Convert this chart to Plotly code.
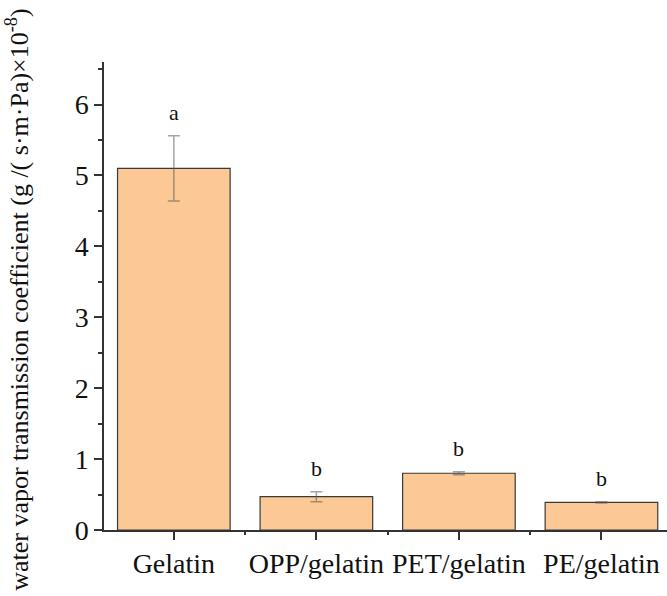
import plotly.graph_objects as go

categories = ["Gelatin", "OPP/gelatin", "PET/gelatin", "PE/gelatin"]
values = [5.10, 0.47, 0.80, 0.39]
errors = [0.46, 0.07, 0.02, 0.01]
letters = ["a", "b", "b", "b"]
y_ticks = [0, 1, 2, 3, 4, 5, 6]
boundaries = [0.5, 1.5, 2.5]

font_family = "Liberation Serif, Times New Roman, serif"

fig = go.Figure()
fig.add_trace(go.Bar(
    x=categories, y=values,
    width=0.79,
    marker=dict(color="#FBC896", line=dict(color="#3a3a3a", width=1.2)),
    error_y=dict(type="data", array=errors, visible=True,
                 color="rgba(90,90,90,0.55)", thickness=1.5, width=6),
    showlegend=False,
))
for c, v, e, t in zip(categories, values, errors, letters):
    fig.add_annotation(x=c, y=v + e, text=t, showarrow=False,
                       yshift=23, font=dict(size=22, family=font_family, color="#111"))

fig.add_trace(go.Scatter(x=boundaries, y=[0, 0, 0], xaxis="x2", mode="lines",
                         line=dict(width=0), showlegend=False, hoverinfo="skip"))

fig.add_annotation(
    xref="paper", yref="paper", x=-0.153, y=0.4915,
    text="water vapor transmission coefficient (g /( s·m·Pa)×10<sup>-8</sup>)",
    textangle=-90, showarrow=False, xanchor="center", yanchor="middle",
    font=dict(size=26, family=font_family, color="#111"),
)

xr = [-0.49, 3.46]
fig.update_layout(
    width=667, height=596,
    margin=dict(l=104, r=0, t=62, b=66),
    paper_bgcolor="white", plot_bgcolor="white",
    font=dict(family=font_family, color="#111"),
    xaxis=dict(
        range=xr, showline=True, linecolor="#333", linewidth=1.5,
        ticks="outside", ticklen=8, tickwidth=1.5, tickcolor="#333",
        tickfont=dict(size=28, family=font_family, color="#111"),
        showgrid=False, zeroline=False, fixedrange=True,
    ),
    xaxis2=dict(
        range=xr, overlaying="x", anchor="y", side="bottom",
        tickvals=boundaries, showticklabels=False,
        ticks="outside", ticklen=4, tickwidth=1.5, tickcolor="#333",
        showgrid=False, zeroline=False, showline=False,
    ),
    yaxis=dict(
        range=[0, 6.6], showline=True, linecolor="#333", linewidth=1.5,
        tickvals=y_ticks,
        ticks="outside", ticklen=8, tickwidth=1.5, tickcolor="#333",
        minor=dict(dtick=0.5, tick0=0, ticks="outside", ticklen=4, tickwidth=1.5, tickcolor="#333"),
        tickfont=dict(size=28, family=font_family, color="#111"),
        showgrid=False, zeroline=False,
    ),
)

fig.write_html("out.html", config={"displayModeBar": False},
               post_script="document.body.style.margin='0';")
